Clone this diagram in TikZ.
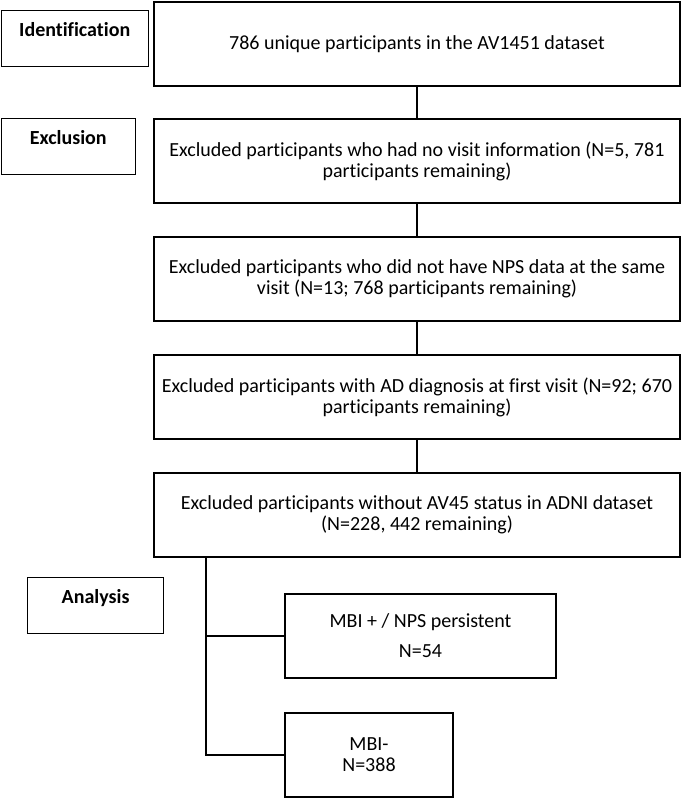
\documentclass[tikz,border=0pt]{standalone}
\usepackage{fontspec}
\setmainfont{Carlito}[Ligatures=NoCommon]
\usepackage{tikz}

\tikzset{
  stagebox/.style={draw, line width=1.2pt, font=\fontsize{20}{21}\selectfont\bfseries, anchor=north west,
    inner xsep=0pt, inner ysep=8pt, text height=18pt, text depth=22pt},
  flowbox/.style={draw, line width=2.5pt, align=center, minimum height=84pt, inner sep=4pt},
  link/.style={line width=2pt},
}

\begin{document}
\begin{tikzpicture}[x=1pt, y=-1pt, font=\fontsize{20}{21}\selectfont]
  \useasboundingbox (0,0) rectangle (682,799);

  % stage labels on the left
  \node[stagebox, minimum width=147pt] (identlabel) at (0.6,10)  {Identification};
  \node[stagebox, minimum width=134pt] (excllabel)  at (0.6,118) {Exclusion};
  \node[stagebox, minimum width=136pt] (analabel)   at (27,577)  {Analysis};

  % main column
  \node[flowbox, minimum width=526pt] (total)   at (417,44)  {786 unique participants in the AV1451 dataset};
  \node[flowbox, minimum width=526pt] (novisit) at (417,161) {Excluded participants who had no visit information (N=5, 781\\participants remaining)};
  \node[flowbox, minimum width=526pt] (nonps)   at (417,279) {Excluded participants who did not have NPS data at the same\\visit (N=13; 768 participants remaining)};
  \node[flowbox, minimum width=526pt] (addiag)  at (417,397) {Excluded participants with AD diagnosis at first visit (N=92; 670\\participants remaining)};
  \node[flowbox, minimum width=526pt] (noav45)  at (417,515) {Excluded participants without AV45 status in ADNI dataset\\(N=228, 442 remaining)};

  % groups
  \node[flowbox, minimum width=271pt] (mbipos) at (420.5,636) {MBI + / NPS persistent\\[9pt]N=54};
  \node[flowbox, minimum width=168pt] (mbineg) at (369,755)   {MBI-\\N=388};

  \draw[link] (total)   -- (novisit);
  \draw[link] (novisit) -- (nonps);
  \draw[link] (nonps)   -- (addiag);
  \draw[link] (addiag)  -- (noav45);

  \coordinate (trunk) at (206,0);
  \draw[link] (trunk |- noav45.south) |- (mbineg.west);
  \draw[link] (trunk |- mbipos.west) -- (mbipos.west);
\end{tikzpicture}
\end{document}
